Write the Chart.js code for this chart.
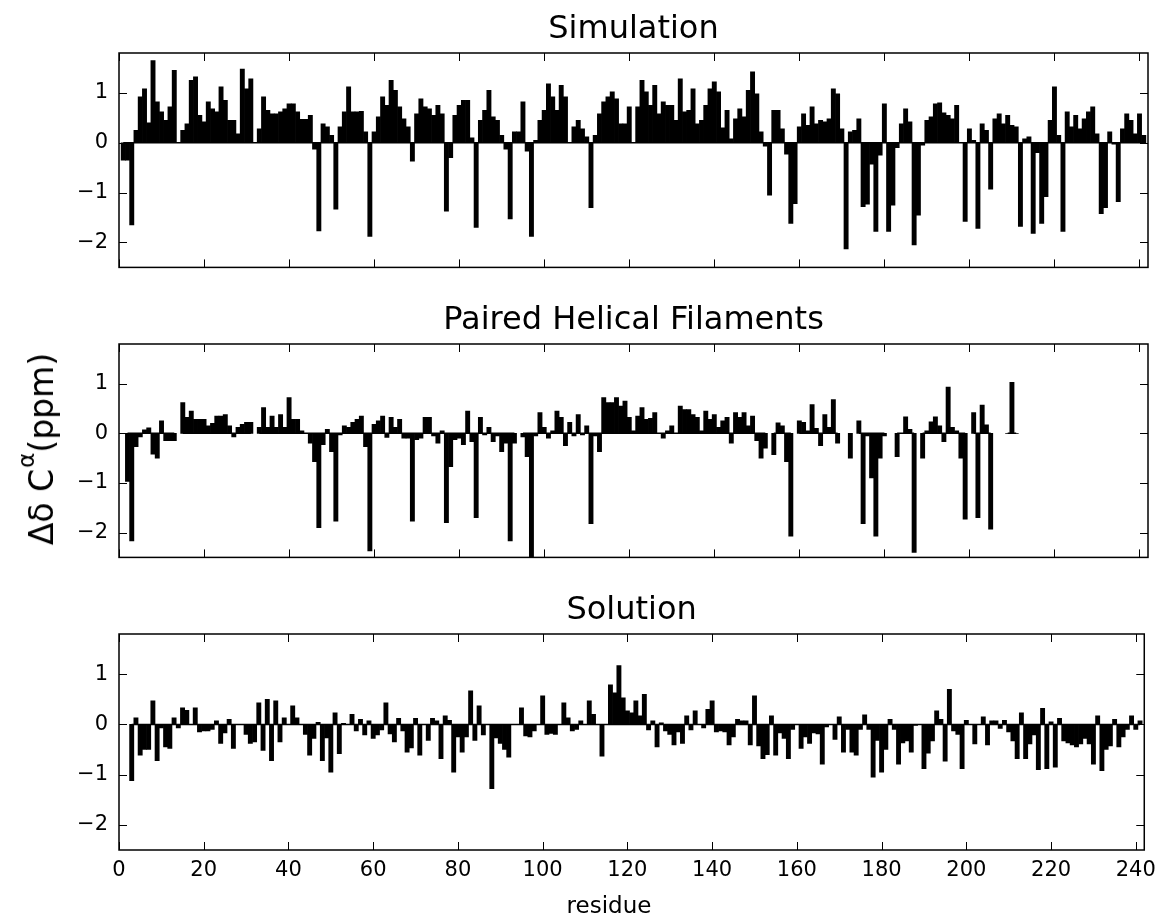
<!DOCTYPE html>
<html>
<head>
<meta charset="utf-8">
<script src="https://cdn.jsdelivr.net/npm/chart.js@4.4.1/dist/chart.umd.min.js"></script>
<style>
  body { margin: 0; background: #fff; }
  #wrap { position: relative; width: 1164px; height: 918px; font-family: 'DejaVu Sans', sans-serif; }
  canvas { position: absolute; left: 0; }
  #ylabel { position: absolute; left: 40px; top: 449px; transform: translate(-50%, -50%) rotate(-90deg); font-size: 33px; white-space: nowrap; color: #000; line-height: 1; }
  #ylabel sup { font-size: 0.7em; position: relative; top: -0.3em; margin-left: 1px; }
  #xlabel { position: absolute; left: 609px; top: 905px; transform: translate(-50%, -50%); font-size: 23px; white-space: nowrap; color: #000; line-height: 1; }
</style>
</head>
<body>
<div id="wrap">
  <canvas id="sim" width="1164" height="291" style="top:0"></canvas>
  <canvas id="phf" width="1164" height="290" style="top:291px"></canvas>
  <canvas id="sol" width="1164" height="337" style="top:581px"></canvas>
  <div id="ylabel">Δδ C<sup>α</sup>(ppm)</div>
  <div id="xlabel">residue</div>
</div>
<script>
// residue numbers 0..241
const residues = Array.from({ length: 242 }, (_, i) => i);

const simValues = [
  null, -0.35, -0.35, -1.65, 0.25, 0.92, 1.08, 0.4, 1.65, 0.82,
  0.62, 0.45, 0.72, 1.45, 0, 0.25, 0.38, 1.25, 1.32, 0.55,
  0.42, 0.82, 0.68, 0.62, 1.12, 0.85, 0.45, 0.45, 0.18, 1.48,
  1.08, 1.28, 0, 0.28, 0.92, 0.65, 0.58, 0.58, 0.62, 0.68,
  0.78, 0.78, 0.62, 0.47, 0.47, 0.55, -0.13, -1.77, 0.38, 0.32,
  0.15, -1.33, 0.32, 0.62, 1.12, 0.62, 0.62, 0.63, 0.22, -1.88,
  0.22, 0.52, 0.92, 0.75, 1.25, 1.05, 0.72, 0.48, 0.32, -0.37,
  0.58, 0.88, 0.72, 0.68, 0.55, 0.75, 0.58, -1.37, -0.3, 0.55,
  0.75, 0.85, 0.85, 0.1, -1.7, 0.45, 0.65, 1.05, 0.52, 0.45,
  0.15, -0.13, -1.53, 0.22, 0.22, 0.82, -0.17, -1.88, 0.05, 0.45,
  0.65, 1.18, 0.92, 0.65, 1.15, 0.92, 0, 0.32, 0.45, 0.28,
  0.12, -1.3, 0.15, 0.58, 0.82, 0.92, 1.02, 0.88, 0.38, 0.38,
  0.72, 0, 0.72, 1.25, 1.02, 0.75, 1.15, 0.58, 0.82, 0.75,
  0.75, 0.45, 1.28, 0.62, 0.65, 1.08, 0.38, 0.45, 0.75, 1.08,
  1.22, 1.02, 0.3, 0.65, 0.08, 0.48, 0.68, 0.52, 1.05, 1.42,
  0.98, 0.22, -0.07, -1.05, 0.65, 0.65, 0.28, -0.23, -1.62, -1.22,
  0.32, 0.58, 0.35, 0.72, 0.38, 0.45, 0.42, 0.48, 1.08, 0.98,
  0.28, -2.13, 0.22, 0.25, 0.48, -1.28, -1.23, -0.43, -1.78, -0.25,
  0.78, -1.78, -1.25, -0.1, 0.38, 0.68, 0.42, -2.05, -1.45, -0.05,
  0.45, 0.52, 0.78, 0.8, 0.6, 0.55, 0.48, 0.75, 0, -1.58,
  0.28, 0.05, -1.72, 0.38, 0.25, -0.93, 0.48, 0.58, 0.38, 0.55,
  0.35, 0.32, -1.68, 0.08, 0.12, -1.82, -0.2, -1.62, -1.08, 0.45,
  1.12, 0.15, -1.78, 0.62, 0.32, 0.55, 0.28, 0.48, 0.62, 0.72,
  0.18, -1.42, -1.3, 0.22, -0.03, -1.18, 0.28, 0.58, 0.45, 0.18,
  0.58, 0.15
];

const phfValues = [
  null, null, -0.97, -2.17, -0.27, -0.07, 0.07, 0.11, -0.42, -0.5,
  0.25, -0.15, -0.15, -0.15, null, 0.62, 0.32, 0.45, 0.28, 0.28,
  0.28, 0.15, 0.2, 0.35, 0.35, 0.38, 0.15, -0.07, 0.12, 0.18,
  0.22, 0.22, null, 0.12, 0.52, 0.12, 0.35, 0.12, 0.38, 0.12,
  0.72, 0.28, 0.28, 0.05, 0, -0.2, -0.57, -1.9, -0.23, 0.08,
  -0.37, -1.77, -0.03, 0.15, 0.12, 0.22, 0.28, 0.35, -0.27, -2.37,
  0.18, 0.25, 0.35, -0.08, 0.32, 0.12, 0.28, -0.1, -0.1, -1.77,
  -0.13, -0.1, 0.32, 0.32, -0.05, -0.2, 0.05, -1.8, -0.67, -0.13,
  -0.1, -0.23, 0.45, -0.17, -1.7, 0.32, -0.03, 0.12, -0.17, -0.05,
  -0.37, -0.2, -2.17, -0.2, null, -0.07, -0.47, -2.55, -0.05, 0.42,
  0.12, -0.1, 0.05, 0.45, 0.32, -0.25, 0.22, -0.05, 0.38, -0.03,
  0.15, -1.82, -0.05, -0.37, 0.72, 0.62, 0.62, 0.72, 0.55, 0.65,
  0.32, 0.05, 0.35, 0.52, 0.28, 0.3, 0.42, 0, -0.1, 0.05,
  0.15, 0, 0.55, 0.48, 0.48, 0.38, 0.32, 0.05, 0.45, 0.28,
  0.38, 0.12, 0.25, 0.32, -0.2, 0.42, 0.32, 0.42, 0.15, 0.35,
  -0.15, -0.5, -0.3, null, -0.43, 0.21, 0.15, -0.57, -2.07, null,
  0.25, 0.22, 0.05, 0.58, 0.1, -0.25, 0.38, 0.12, 0.68, -0.2,
  null, null, -0.5, null, 0.25, -1.82, -0.05, -0.9, -2.07, -0.5,
  -0.05, null, null, -0.47, 0, 0.33, 0.08, -2.4, null, -0.5,
  0.05, 0.23, 0.33, 0.15, -0.17, 0.93, 0.12, 0.05, -0.5, -1.73,
  null, 0.42, -1.7, 0.57, 0.17, -1.93, null, null, null, 0,
  1.03, 0, null, null, null, null, null, null, null, null,
  null, null, null, null, null, null, null, null, null, null,
  null, null, null, null, null, null, null, null, null, null,
  null, null
];

const solValues = [
  null, null, null, -1.12, 0.13, -0.61, -0.5, -0.5, 0.47, -0.72,
  -0.07, -0.45, -0.48, 0.13, -0.07, 0.33, 0.28, 0, 0.33, -0.15,
  -0.13, -0.13, -0.1, 0.07, -0.38, -0.17, 0.1, -0.48, 0, 0,
  -0.2, -0.38, -0.35, 0.43, -0.52, 0.5, -0.72, 0.47, -0.35, 0.13,
  0, 0.37, 0.13, 0, -0.2, -0.61, -0.28, 0.04, -0.72, -0.27,
  -0.95, 0.23, -0.58, 0.02, 0, 0.2, -0.13, 0.1, -0.21, 0.07,
  -0.28, -0.21, -0.11, 0.43, -0.19, -0.35, 0.12, -0.13, -0.55, -0.47,
  0.12, -0.61, 0, -0.32, 0.12, 0.07, -0.68, 0.17, 0.08, -0.95,
  -0.25, -0.55, -0.25, 0.67, -0.32, 0.37, -0.21, 0, -1.28, -0.27,
  -0.38, -0.5, -0.65, 0, 0, 0.33, -0.23, -0.25, -0.13, 0,
  0.57, -0.2, -0.18, -0.2, 0, 0.43, 0.13, -0.13, -0.1, 0.07,
  0, 0.47, 0.2, 0, -0.63, 0, 0.79, 0.63, 1.17, 0.53,
  0.27, 0.23, 0.47, 0.17, 0.6, -0.11, 0.07, -0.45, 0.03, -0.13,
  -0.2, -0.41, -0.15, -0.38, 0.17, -0.11, 0.27, 0, -0.07, 0.3,
  0.47, -0.15, -0.13, -0.15, -0.41, -0.25, 0.1, 0.07, 0.07, -0.41,
  0.57, -0.43, -0.68, -0.6, 0.17, -0.61, -0.17, -0.28, -0.68, -0.1,
  0, -0.48, -0.25, -0.38, -0.17, -0.19, -0.79, -0.05, 0, -0.3,
  0.15, -0.55, -0.1, -0.55, -0.61, -0.1, 0.19, -0.1, -1.05, -0.32,
  -0.95, -0.5, 0.1, -0.1, -0.79, -0.37, -0.33, -0.55, -0.02, 0,
  -0.88, -0.57, -0.33, 0.27, 0.1, -0.73, 0.7, -0.13, -0.2, -0.88,
  0.08, 0, -0.39, 0, 0.15, -0.41, 0.07, 0.07, -0.08, 0.08,
  -0.15, -0.33, -0.68, 0.23, -0.68, -0.39, -0.21, -0.9, 0.32, -0.88,
  0.05, -0.85, 0.12, -0.33, -0.37, -0.41, -0.45, -0.39, -0.28, -0.39,
  -0.79, 0.17, -0.92, -0.5, -0.43, 0.1, -0.45, -0.25, -0.1, 0.17,
  -0.1, 0.07
];

const xTickValues = [0, 20, 40, 60, 80, 100, 120, 140, 160, 180, 200, 220, 240];
const yTickValues = [-2, -1, 0, 1];
const xMin = 0, xMax = 242;
const yMin = -2.5, yMax = 1.8;

const FONT = "'DejaVu Sans', sans-serif";

// matplotlib-style frame with inward ticks on all four sides
const tickFrame = {
  id: 'tickFrame',
  afterDatasetsDraw(chart) {
    const { ctx, chartArea: a, scales: { x, y } } = chart;
    const len = 8;
    ctx.save();
    ctx.strokeStyle = '#000';
    ctx.lineWidth = 1;
    ctx.beginPath();
    xTickValues.forEach((v) => {
      const px = Math.round(x.getPixelForValue(v)) + 0.5;
      ctx.moveTo(px, a.top); ctx.lineTo(px, a.top + len);
      ctx.moveTo(px, a.bottom); ctx.lineTo(px, a.bottom - len);
    });
    yTickValues.forEach((v) => {
      const py = Math.round(y.getPixelForValue(v)) + 0.5;
      ctx.moveTo(a.left, py); ctx.lineTo(a.left + len, py);
      ctx.moveTo(a.right, py); ctx.lineTo(a.right - len, py);
    });
    ctx.stroke();
    ctx.lineWidth = 1.5;
    ctx.strokeRect(a.left, a.top, a.right - a.left, a.bottom - a.top);
    ctx.restore();
  }
};

function makePanel(id, title, values, showX) {
  const canvas = document.getElementById(id);
  const bars = residues.map((r, i) => ({ x: r, y: values[i] }));
  const baseline = residues.map((r, i) => ({ x: r, y: values[i] === null ? null : 0 }));

  return new Chart(canvas, {
    type: 'bar',
    data: {
      datasets: [
        {
          type: 'line',
          data: baseline,
          borderColor: '#000',
          borderWidth: 1.5,
          pointRadius: 0,
          spanGaps: false,
        },
        {
          data: bars,
          backgroundColor: '#000',
          borderWidth: 0,
          barPercentage: 1,
          categoryPercentage: 1,
        },
      ],
    },
    options: {
      responsive: false,
      animation: false,
      devicePixelRatio: 1,
      layout: { padding: { left: 0, right: 16, top: 0, bottom: 0 } },
      plugins: {
        legend: { display: false },
        tooltip: { enabled: false },
        title: {
          display: true,
          fullSize: false,
          text: title,
          color: '#000',
          font: { family: FONT, size: 32, weight: 'normal', lineHeight: 1.2 },
          padding: { top: 10.5, bottom: 4.1 },
        },
      },
      scales: {
        x: {
          type: 'linear',
          min: xMin,
          max: xMax,
          offset: false,
          grid: { display: false, drawTicks: false, offset: false },
          border: { display: false },
          afterBuildTicks: (s) => { s.ticks = xTickValues.map((v) => ({ value: v })); },
          afterFit: (s) => { s.height = canvas.height - 53 - 216; },
          ticks: {
            display: showX,
            padding: 8,
            color: '#000',
            maxRotation: 0,
            autoSkip: false,
            font: { family: FONT, size: 21 },
            callback: (v) => String(v),
          },
        },
        y: {
          min: yMin,
          max: yMax,
          grid: { display: false, drawTicks: false },
          border: { display: false },
          afterBuildTicks: (s) => { s.ticks = yTickValues.map((v) => ({ value: v })); },
          afterFit: (s) => { s.width = 119; },
          ticks: {
            padding: 11,
            color: '#000',
            font: { family: FONT, size: 21 },
            callback: (v) => String(v).replace('-', '\u2212'),
          },
        },
      },
    },
    plugins: [tickFrame],
  });
}

makePanel('sim', 'Simulation', simValues, false);
makePanel('phf', 'Paired Helical Filaments', phfValues, false);
makePanel('sol', 'Solution', solValues, true);
</script>
</body>
</html>
